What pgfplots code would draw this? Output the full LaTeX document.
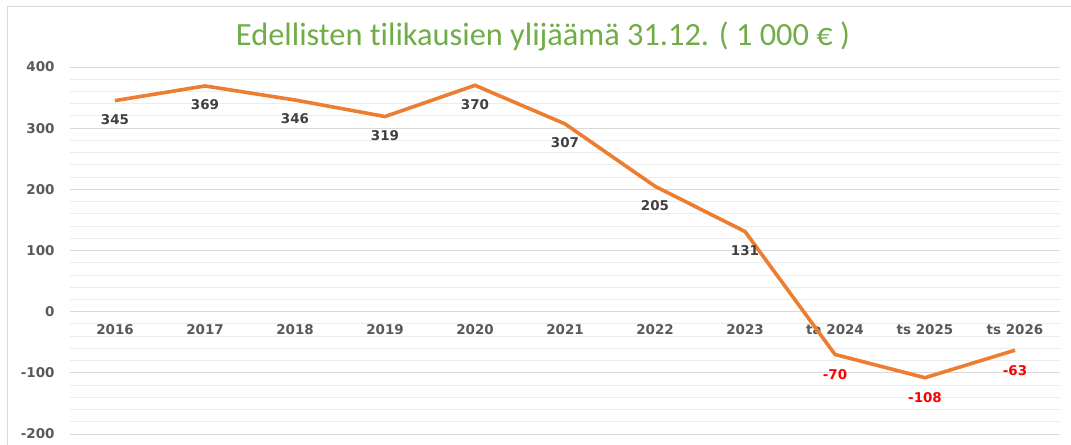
\documentclass[border=0pt]{standalone}
\usepackage{pgfplots}
\pgfplotsset{compat=1.18}
\usepackage{fontspec}
\setmainfont{DejaVu Sans}
\newfontfamily\titlefont[Ligatures={NoCommon}]{Carlito}
\definecolor{lineorange}{RGB}{237,125,49}
\definecolor{titlegreen}{RGB}{112,173,71}
\definecolor{gridmajor}{RGB}{217,217,217}
\definecolor{gridminor}{RGB}{236,236,236}
\definecolor{ticktext}{RGB}{89,89,89}
\definecolor{labeltext}{RGB}{64,64,64}
\begin{document}
\begin{tikzpicture}[x=1bp,y=1bp]
\useasboundingbox (-70,-11) rectangle (1001,434);
\draw[gridmajor, line width=1bp] (-62,-11) -- (-62,427) -- (1001,427);
\node[text=titlegreen, font=\titlefont\fontsize{32.5}{36}\selectfont] at (473,398) {Edellisten tilikausien ylijäämä 31.12. ( 1 000 € )};
\begin{axis}[
  at={(0,0)}, anchor=south west,
  scale only axis, width=990bp, height=367bp,
  xmin=-0.5, xmax=10.5, ymin=-200, ymax=400,
  xtick={0,1,2,3,4,5,6,7,8,9,10},
  xticklabels={2016,2017,2018,2019,2020,2021,2022,2023,ta 2024,ts 2025,ts 2026},
  ytick={-200,-100,0,100,200,300,400},
  minor y tick num=4,
  ymajorgrids, yminorgrids,
  major grid style={gridmajor, line width=0.9bp},
  minor grid style={gridminor, line width=0.9bp},
  axis x line*=middle, axis y line*=left,
  x axis line style={draw=gridmajor, line width=1bp, -},
  y axis line style={draw=none},
  major tick length=0pt, minor tick length=0pt,
  tick style={draw=none},
  /pgf/number format/assume math mode=true,
  ticklabel style={font=\bfseries\fontsize{13.5}{16}\selectfont, text=ticktext},
  xticklabel style={yshift=-9bp},
  yticklabel style={xshift=-12bp},
  clip=false,
]
\addplot[lineorange, line width=3.6bp, mark=none] coordinates {
  (0,345) (1,369) (2,346) (3,319) (4,370) (5,307) (6,205) (7,131) (8,-70) (9,-108) (10,-63)
};
\addplot[draw=none, mark=none, nodes near coords,
  nodes near coords style={anchor=center, yshift=-19bp, text=labeltext, font=\bfseries\fontsize{13.5}{16}\selectfont}] coordinates {
  (0,345) (1,369) (2,346) (3,319) (4,370) (5,307) (6,205) (7,131)
};
\addplot[draw=none, mark=none, nodes near coords,
  nodes near coords style={anchor=center, yshift=-20bp, text=red, font=\bfseries\fontsize{13.5}{16}\selectfont}] coordinates {
  (8,-70) (9,-108) (10,-63)
};
\end{axis}
\end{tikzpicture}
\end{document}
